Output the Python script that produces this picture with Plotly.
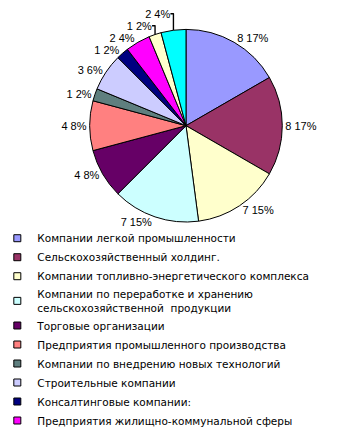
import plotly.graph_objects as go

categories = [
    "Компании легкой промышленности",
    "Сельскохозяйственный холдинг.",
    "Компании топливно-энергетического комплекса",
    "Компании по переработке и хранению<br>сельскохозяйственной  продукции",
    "Торговые организации",
    "Предприятия промышленного производства",
    "Компании по внедрению новых технологий",
    "Строительные компании",
    "Консалтинговые компании:",
    "Предприятия жилищно-коммунальной сферы",
    "Прочие",
    "Другие",
]
counts = [8, 8, 7, 7, 4, 4, 1, 3, 1, 2, 1, 2]
colors = ["#9999FF", "#993366", "#FFFFCC", "#CCFFFF", "#660066", "#FF8080",
          "#5F7F7F", "#CCCCFF", "#000080", "#FF00FF", "#FFFFCC", "#00FFFF"]
legend_count = 10

FONT = "Liberation Sans, Arial, sans-serif"
LFONT = "DejaVu Sans, sans-serif"

fig = go.Figure()
fig.add_trace(go.Pie(
    labels=categories,
    values=counts,
    sort=False,
    direction="clockwise",
    rotation=0,
    marker=dict(colors=colors, line=dict(color="black", width=1)),
    texttemplate="%{value} %{percent:.0%}",
    textposition="outside",
    textfont=dict(family=FONT, size=11, color="black"),
    showlegend=False,
    hoverinfo="label+value+percent",
    domain=dict(x=[0.02, 0.98], y=[0.5, 0.95]),
))

for name, col in zip(categories[:legend_count], colors[:legend_count]):
    fig.add_trace(go.Scatter(
        x=[None], y=[None], mode="markers", name=name,
        marker=dict(symbol="square", size=7, color=col,
                    line=dict(color="black", width=1)),
    ))

fig.update_layout(
    width=356, height=428,
    margin=dict(l=0, r=0, t=0, b=0, autoexpand=False),
    paper_bgcolor="white", plot_bgcolor="white",
    xaxis=dict(visible=False), yaxis=dict(visible=False),
    legend=dict(
        xref="paper", yref="paper",
        x=-0.03, y=0.496, xanchor="left", yanchor="top",
        font=dict(family=LFONT, size=10.5, color="black"),
        tracegroupgap=0, itemwidth=30,
        bgcolor="rgba(0,0,0,0)",
    ),
)

fig.write_html("out.html")
